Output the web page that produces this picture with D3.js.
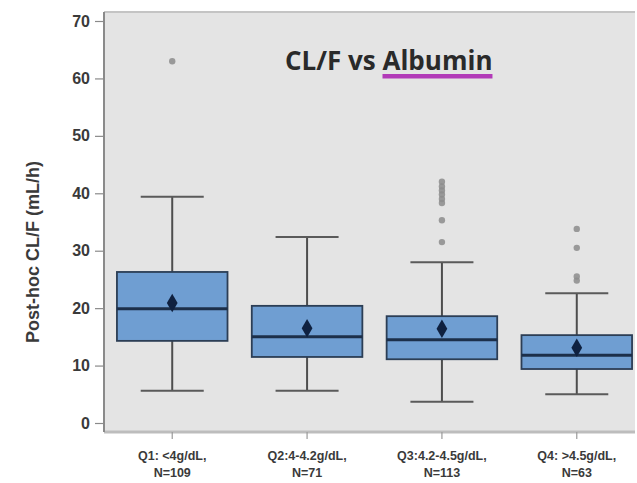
<!DOCTYPE html>
<html>
<head>
<meta charset="utf-8">
<script src="https://cdn.jsdelivr.net/npm/d3@7"></script>
<style>
  html, body { margin: 0; padding: 0; background: #ffffff; }
  svg { display: block; }
</style>
</head>
<body>
<div id="chart"></div>
<script>
// Albumin quartile groups and their CL/F summary statistics
const categories = ["Q1", "Q2", "Q3", "Q4"];
const labelLine1 = ["Q1: <4g/dL,", "Q2:4-4.2g/dL,", "Q3:4.2-4.5g/dL,", "Q4: >4.5g/dL,"];
const labelLine2 = ["N=109", "N=71", "N=113", "N=63"];
const whiskerLow = [5.6, 5.6, 3.7, 5.0];
const q1Values   = [14.3, 11.5, 11.1, 9.4];
const medians    = [19.9, 15.0, 14.5, 11.8];
const q3Values   = [26.3, 20.4, 18.6, 15.3];
const whiskerHigh = [39.4, 32.4, 28.0, 22.6];
const means      = [20.9, 16.5, 16.4, 13.1];
const outliers = [
  [63.0],
  [],
  [42.0, 41.2, 40.5, 39.8, 39.0, 38.3, 35.3, 31.5],
  [33.8, 30.5, 25.5, 24.8]
];
const yTicks = [0, 10, 20, 30, 40, 50, 60, 70];

const W = 637, H = 483;
const plot = { left: 104, right: 635, top: 12, bottom: 432 };

const svg = d3.select("#chart").append("svg")
  .attr("width", W).attr("height", H);

const y = d3.scaleLinear().domain([0, 70]).range([423, 21]);
const x = d3.scaleBand().domain(categories)
  .range([104.8, 644.2]).paddingInner(0.18).paddingOuter(0.09);

// Plot background and frame
svg.append("rect")
  .attr("x", plot.left).attr("y", plot.top)
  .attr("width", plot.right - plot.left).attr("height", plot.bottom - plot.top)
  .attr("fill", "#e4e4e4");
svg.append("line")
  .attr("x1", plot.left).attr("x2", plot.right)
  .attr("y1", plot.top).attr("y2", plot.top)
  .attr("stroke", "#c4c4c4").attr("stroke-width", 2);
svg.append("line")
  .attr("x1", plot.left).attr("x2", plot.right)
  .attr("y1", plot.bottom).attr("y2", plot.bottom)
  .attr("stroke", "#bdbdbd").attr("stroke-width", 3);

// Y axis
const yAxis = svg.append("g")
  .attr("transform", `translate(${plot.left},0)`)
  .call(d3.axisLeft(y).tickValues(yTicks).tickSize(9).tickPadding(5));
yAxis.select(".domain")
  .attr("d", `M0,${plot.top}V${plot.bottom}`)
  .attr("stroke", "#8a8a8a").attr("stroke-width", 2);
yAxis.selectAll(".tick line").attr("stroke", "#8a8a8a").attr("stroke-width", 1.2);
yAxis.selectAll(".tick text")
  .attr("fill", "#3a3a3a")
  .style("font-family", "Liberation Sans, Arial, sans-serif")
  .style("font-size", "16px").style("font-weight", "bold");

// X axis
const xAxis = svg.append("g")
  .attr("transform", `translate(0,${plot.bottom})`)
  .call(d3.axisBottom(x).tickSize(7).tickFormat(""));
xAxis.select(".domain").remove();
xAxis.selectAll(".tick line").attr("stroke", "#9a9a9a").attr("stroke-width", 1.2);

const xl = svg.append("g")
  .style("font-family", "Liberation Sans, Arial, sans-serif")
  .style("font-size", "12.5px").style("font-weight", "bold")
  .attr("fill", "#3a3a3a")
  .attr("text-anchor", "middle");
categories.forEach((c, i) => {
  const cx = x(c) + x.bandwidth() / 2;
  xl.append("text").attr("x", cx).attr("y", 460).text(labelLine1[i]);
  xl.append("text").attr("x", cx).attr("y", 477).text(labelLine2[i]);
});

// Y axis title
svg.append("text")
  .attr("transform", `translate(39,252) rotate(-90)`)
  .attr("text-anchor", "middle")
  .style("font-family", "Liberation Sans, Arial, sans-serif")
  .style("font-size", "18px").style("font-weight", "bold")
  .attr("fill", "#3a3a3a")
  .text("Post-hoc CL/F (mL/h)");

// Boxes
const g = svg.append("g");
categories.forEach((c, i) => {
  const cx = x(c) + x.bandwidth() / 2;
  const bw = x.bandwidth();
  const capW = bw * 0.57;
  // whiskers
  g.append("line").attr("x1", cx).attr("x2", cx)
    .attr("y1", y(whiskerHigh[i])).attr("y2", y(q3Values[i]))
    .attr("stroke", "#4d4d4d").attr("stroke-width", 2);
  g.append("line").attr("x1", cx).attr("x2", cx)
    .attr("y1", y(whiskerLow[i])).attr("y2", y(q1Values[i]))
    .attr("stroke", "#4d4d4d").attr("stroke-width", 2);
  [whiskerHigh[i], whiskerLow[i]].forEach(v => {
    g.append("line").attr("x1", cx - capW / 2).attr("x2", cx + capW / 2)
      .attr("y1", y(v)).attr("y2", y(v))
      .attr("stroke", "#5a5a5a").attr("stroke-width", 2);
  });
  // box
  g.append("rect")
    .attr("x", x(c)).attr("y", y(q3Values[i]))
    .attr("width", bw).attr("height", y(q1Values[i]) - y(q3Values[i]))
    .attr("fill", "#6f9ed2").attr("stroke", "#2c3e55").attr("stroke-width", 1.8);
  // median
  g.append("line").attr("x1", x(c)).attr("x2", x(c) + bw)
    .attr("y1", y(medians[i])).attr("y2", y(medians[i]))
    .attr("stroke", "#1c2f4a").attr("stroke-width", 3);
  // mean marker
  g.append("path")
    .attr("transform", `translate(${cx},${y(means[i])})`)
    .attr("d", d3.symbol(d3.symbolDiamond, 100)())
    .attr("fill", "#0f2140");
  // outliers
  outliers[i].forEach(v => {
    g.append("circle").attr("cx", cx).attr("cy", y(v)).attr("r", 3.2)
      .attr("fill", "#8c8c8c").attr("opacity", 0.85);
  });
});

// Title with underlined keyword
const title = svg.append("text")
  .attr("x", 285).attr("y", 70)
  .style("font-family", "Open Sans, DejaVu Sans, sans-serif")
  .style("font-size", "26px").style("font-weight", "bold")
  .attr("fill", "#2a2a2a");
title.append("tspan").text("CL/F vs ");
title.append("tspan").attr("class", "kw").text("Albumin");
const kw = title.select(".kw").node();
const kwBox = kw.getBBox();
svg.append("rect")
  .attr("x", kwBox.x).attr("y", 74)
  .attr("width", kwBox.width).attr("height", 4.5)
  .attr("fill", "#b23ab8");
</script>
</body>
</html>
